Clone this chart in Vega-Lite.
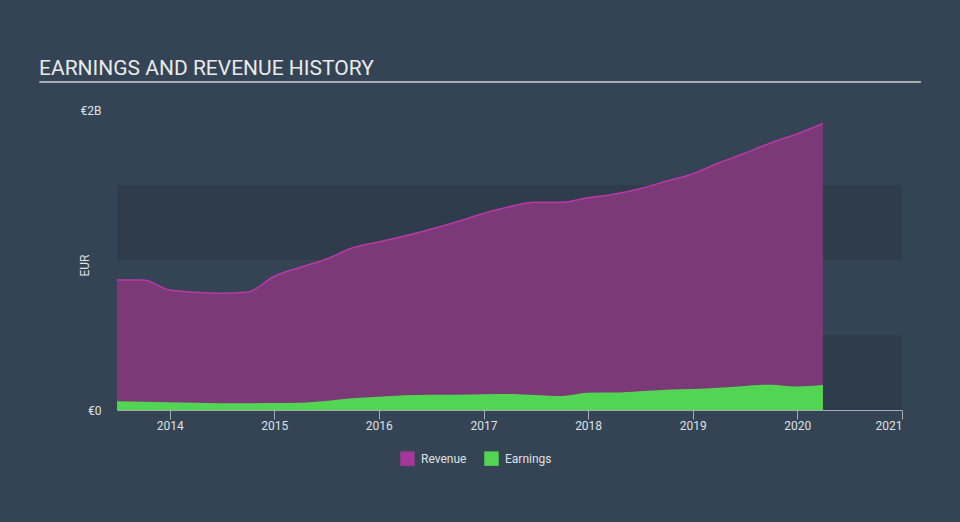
{
  "$schema": "https://vega.github.io/schema/vega-lite/v6.json",
  "autosize": "none",
  "width": 785,
  "height": 300,
  "padding": {"left": 117, "top": 110, "right": 58, "bottom": 112},
  "background": "#354454",
  "config": {
    "view": {"stroke": null},
    "font": "Roboto"
  },
  "title": {
    "text": "EARNINGS AND REVENUE HISTORY",
    "anchor": "start",
    "frame": "group",
    "dx": -78,
    "offset": -15,
    "baseline": "alphabetic",
    "font": "Roboto",
    "fontSize": 21,
    "fontWeight": "normal",
    "color": "#e8eaec"
  },
  "datasets": {
    "series": [
      {"date": "2013-07-01", "revenue": 0.867, "earnings": 0.058},
      {"date": "2013-09-30", "revenue": 0.866, "earnings": 0.055},
      {"date": "2013-12-31", "revenue": 0.800, "earnings": 0.052},
      {"date": "2014-03-31", "revenue": 0.785, "earnings": 0.049},
      {"date": "2014-06-30", "revenue": 0.778, "earnings": 0.045},
      {"date": "2014-09-30", "revenue": 0.786, "earnings": 0.045},
      {"date": "2014-12-31", "revenue": 0.890, "earnings": 0.046},
      {"date": "2015-03-31", "revenue": 0.950, "earnings": 0.048},
      {"date": "2015-06-30", "revenue": 1.005, "earnings": 0.060},
      {"date": "2015-09-30", "revenue": 1.080, "earnings": 0.078},
      {"date": "2015-12-31", "revenue": 1.120, "earnings": 0.088},
      {"date": "2016-03-31", "revenue": 1.160, "earnings": 0.098},
      {"date": "2016-06-30", "revenue": 1.205, "earnings": 0.102},
      {"date": "2016-09-30", "revenue": 1.255, "earnings": 0.102},
      {"date": "2016-12-31", "revenue": 1.310, "earnings": 0.105},
      {"date": "2017-03-31", "revenue": 1.355, "earnings": 0.107},
      {"date": "2017-06-30", "revenue": 1.385, "earnings": 0.100},
      {"date": "2017-09-30", "revenue": 1.385, "earnings": 0.093},
      {"date": "2017-12-31", "revenue": 1.415, "earnings": 0.115},
      {"date": "2018-03-31", "revenue": 1.438, "earnings": 0.116},
      {"date": "2018-06-30", "revenue": 1.475, "earnings": 0.125},
      {"date": "2018-09-30", "revenue": 1.525, "earnings": 0.135},
      {"date": "2018-12-31", "revenue": 1.573, "earnings": 0.140},
      {"date": "2019-03-31", "revenue": 1.645, "earnings": 0.148},
      {"date": "2019-06-30", "revenue": 1.710, "earnings": 0.160},
      {"date": "2019-09-30", "revenue": 1.780, "earnings": 0.169},
      {"date": "2019-12-31", "revenue": 1.840, "earnings": 0.157},
      {"date": "2020-03-31", "revenue": 1.910, "earnings": 0.167}
    ],
    "bands": [
      {"lo": 0, "hi": 0.5},
      {"lo": 1.0, "hi": 1.5}
    ],
    "deco": [
      {"start": "2012-10-03", "end": "2021-03-08", "level": 2.187}
    ],
    "legend": [
      {"series": "Revenue"},
      {"series": "Earnings"}
    ]
  },
  "layer": [
    {
      "data": {"name": "bands"},
      "mark": {"type": "rect", "fill": "#2e3c4b"},
      "encoding": {
        "y": {"field": "lo", "type": "quantitative", "scale": {"domain": [0, 2]},
              "axis": {"values": [0, 2], "labelExpr": "datum.value == 0 ? '€0' : '€' + datum.value + 'B'",
                       "domain": false, "ticks": false, "grid": false, "labelPadding": 16,
                       "labelFontSize": 12, "labelColor": "#dde1e5", "title": "EUR",
                       "titleFontSize": 12, "titleFontWeight": "normal", "titleColor": "#dde1e5",
                       "titleX": -26, "titleY": 155}},
        "y2": {"field": "hi"}
      }
    },
    {
      "data": {"name": "series"},
      "mark": {"type": "area", "interpolate": "monotone", "fill": "#7b3a77"},
      "encoding": {
        "x": {"field": "date", "type": "temporal",
              "scale": {"type": "utc", "domain": [{"year": 2013, "month": 7, "date": 1, "utc": true}, {"year": 2021, "month": 1, "date": 1, "utc": true}]},
              "axis": {"format": "%Y", "tickCount": {"interval": "year", "step": 1}, "grid": false,
                       "domainColor": "#a3acb6", "tickColor": "#a3acb6", "tickSize": 9,
                       "labelPadding": 1, "labelFontSize": 12, "labelColor": "#dde1e5", "title": null}},
        "y": {"field": "revenue", "type": "quantitative"}
      }
    },
    {
      "data": {"name": "series"},
      "mark": {"type": "line", "interpolate": "monotone", "stroke": "#b63aa6", "strokeWidth": 1.5},
      "encoding": {
        "x": {"field": "date", "type": "temporal"},
        "y": {"field": "revenue", "type": "quantitative"}
      }
    },
    {
      "data": {"name": "series"},
      "mark": {"type": "area", "interpolate": "monotone", "fill": "#52d552"},
      "encoding": {
        "x": {"field": "date", "type": "temporal"},
        "y": {"field": "earnings", "type": "quantitative"}
      }
    },
    {
      "data": {"name": "deco"},
      "mark": {"type": "rule", "stroke": "#a8aeb5", "strokeWidth": 2},
      "encoding": {
        "x": {"field": "start", "type": "temporal"},
        "x2": {"field": "end"},
        "y": {"field": "level", "type": "quantitative"}
      }
    },
    {
      "data": {"name": "legend"},
      "mark": {"type": "square", "size": 0, "opacity": 1, "filled": true},
      "encoding": {
        "color": {"field": "series", "type": "nominal",
                  "scale": {"domain": ["Revenue", "Earnings"], "range": ["#a3389a", "#52d552"]},
                  "legend": {"orient": "none", "legendX": 283, "legendY": 341, "direction": "horizontal",
                             "title": null, "symbolType": "square", "symbolSize": 210, "symbolStrokeWidth": 0,
                             "labelFontSize": 12, "labelColor": "#dde1e5", "labelOffset": 6,
                             "columnPadding": 17, "padding": 0}}
      }
    }
  ]
}
